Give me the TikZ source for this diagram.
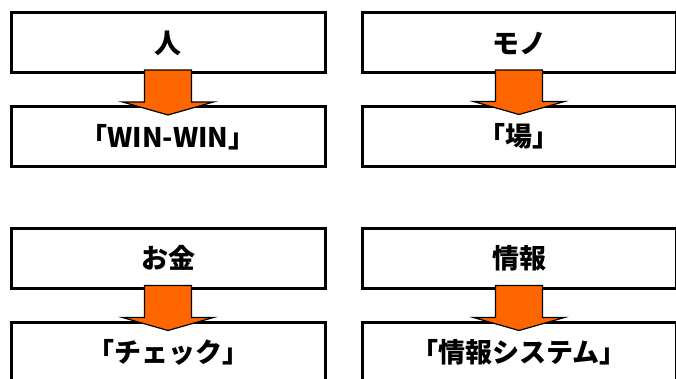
\documentclass[tikz,border=0pt]{standalone}
\usepackage{fontspec}
\newfontfamily\jpfont{Noto Sans CJK JP}
\usetikzlibrary{calc}
\definecolor{arroworange}{HTML}{FF6600}
\tikzset{
  box/.style={draw,line width=3pt,minimum width=314pt,minimum height=60pt,inner sep=0pt,
    text height=24.5pt,text depth=3.5pt,font=\jpfont\bfseries\fontsize{27}{27}\selectfont},
  fatarrow/.style={fill=arroworange,draw=black,line width=1.2pt,line join=miter}
}
\begin{document}
\begin{tikzpicture}[x=1pt,y=-1pt]
    \useasboundingbox (0,0) rectangle (676,378);
    \clip (0,0) rectangle (676,378);
    % upper row
    \node[box] (hito) at (168,42.5) {人};
    \node[box] (winwin) at (168,136.5) {「WIN-WIN」};
    \node[box] (mono) at (519,42.5) {モノ};
    \node[box] (ba) at (519,136) {「場」};
    % lower row
    \node[box] (okane) at (168,258) {お金};
    \node[box] (check) at (168,352) {「チェック」};
    \node[box] (joho) at (519,258) {情報};
    \node[box] (system) at (519,352) {「情報システム」};
    % arrows
    \foreach \u/\l in {hito/winwin,mono/ba,okane/check,joho/system}
    \draw[fatarrow] ($(\u.south)+(-23.5,-4)$) -- ($(\u.south)+(23.5,-4)$)
        -- ($(\l.north)+(23.5,-3)$) -- ($(\l.north)+(45.5,-3)$)
        -- ($(\l.north)+(0,10)$) -- ($(\l.north)+(-45.5,-3)$)
        -- ($(\l.north)+(-23.5,-3)$) -- cycle;
\end{tikzpicture}
\end{document}
